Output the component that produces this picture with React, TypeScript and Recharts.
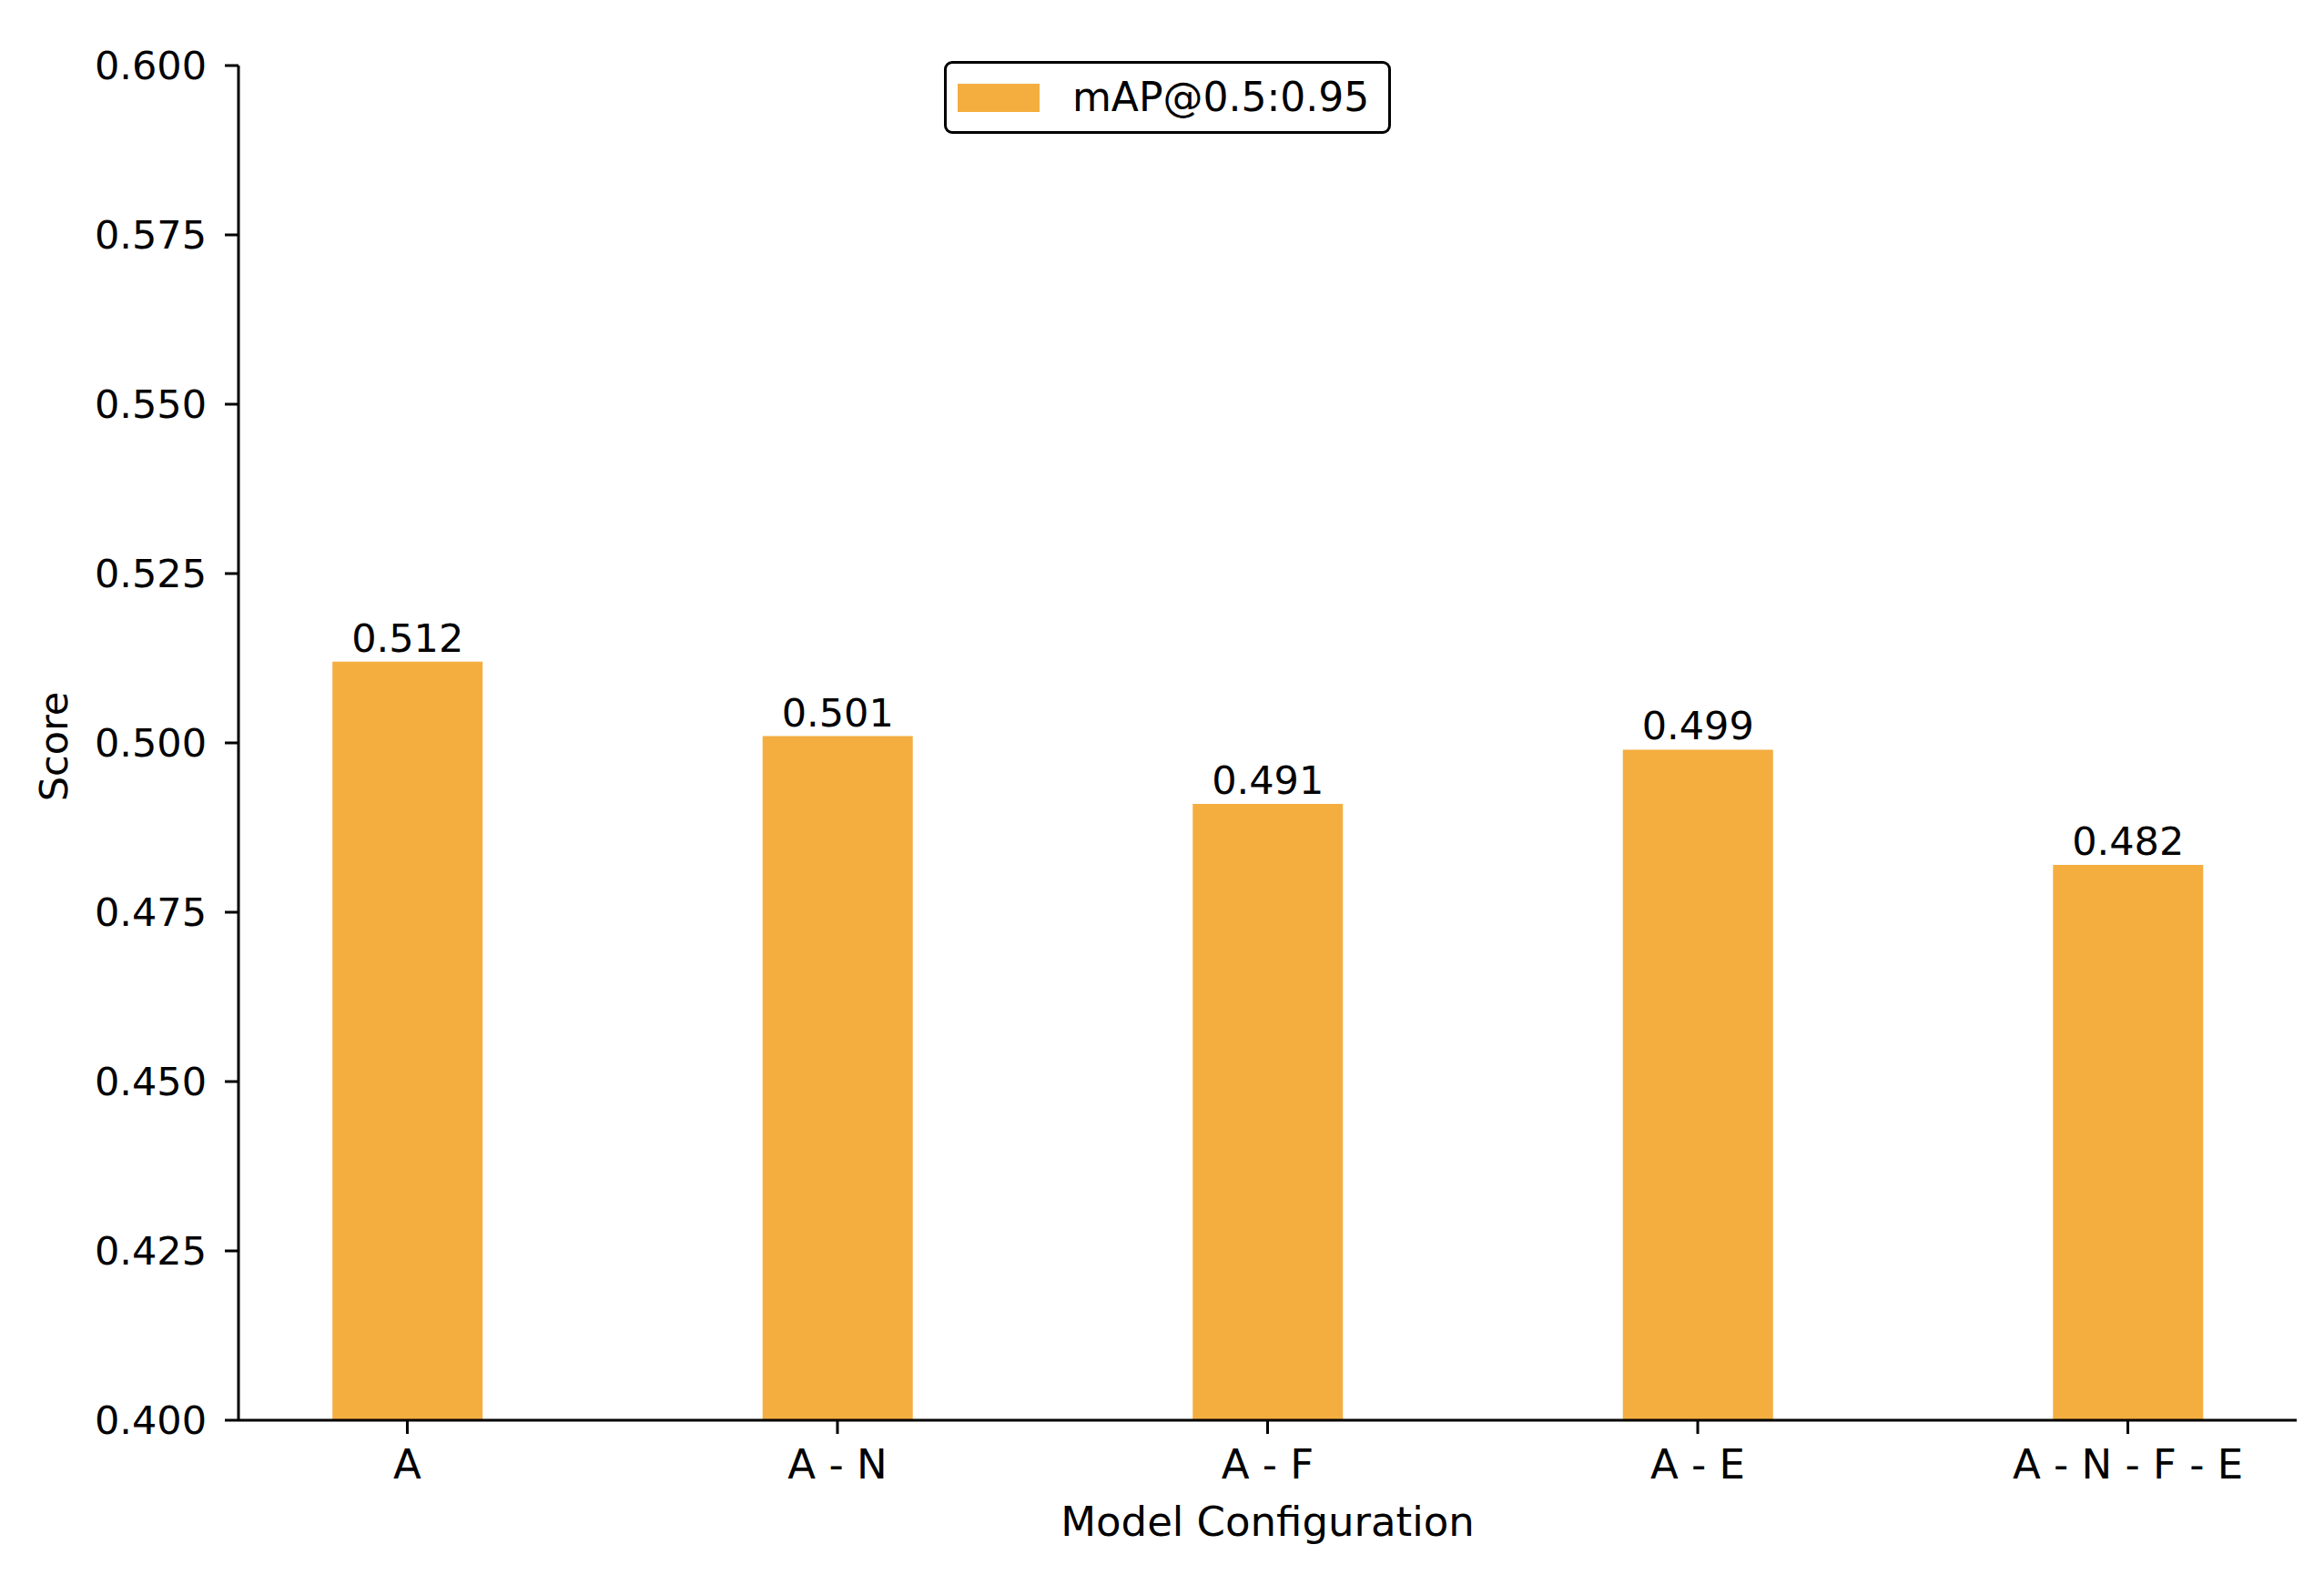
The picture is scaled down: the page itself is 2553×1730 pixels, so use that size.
import { BarChart, Bar, XAxis, YAxis, Legend, LabelList } from 'recharts';

const configs = ['A', 'A - N', 'A - F', 'A - E', 'A - N - F - E'];
const mapScores = [0.512, 0.501, 0.491, 0.499, 0.482];
const yTicks = [0.4, 0.425, 0.45, 0.475, 0.5, 0.525, 0.55, 0.575, 0.6];

const BAR_COLOR = '#F4AE40';
const FONT = 'DejaVu Sans, sans-serif';
const FS = 43;
const FS_X = 45;

const data = configs.map((name, i) => ({ idx: i, name, score: mapScores[i] }));

// matplotlib-ish boxed legend
const LegendBox = (props: any) => {
  const item = props.payload?.[0];
  return (
    <div
      style={{
        boxSizing: 'border-box',
        width: 491,
        height: 80,
        border: '3px solid #000',
        borderRadius: 9,
        background: '#fff',
        display: 'flex',
        alignItems: 'center',
        fontFamily: FONT,
        fontSize: 44,
        color: '#000',
      }}
    >
      <span style={{ display: 'inline-block', width: 90, height: 31, marginLeft: 12, background: item?.color || BAR_COLOR }} />
      <span style={{ marginLeft: 36, lineHeight: 1 }}>mAP@0.5:0.95</span>
    </div>
  );
};

export default function App() {
  return (
    <div style={{ position: 'absolute', left: 0, top: 0, background: '#fff' }}>
      <BarChart
        width={2553}
        height={1730}
        data={data}
        margin={{ top: 72, right: 30, bottom: 0, left: 0 }}
        style={{ fontFamily: FONT }}
      >
        <XAxis
          dataKey="idx"
          type="number"
          domain={[-0.3925, 4.3925]}
          ticks={[0, 1, 2, 3, 4]}
          tickFormatter={(i: number) => configs[i] ?? ''}
          stroke="#000"
          strokeWidth={3}
          tickSize={15}
          tickMargin={17}
          tick={{ fill: '#000', fontSize: FS_X, fontFamily: FONT }}
          height={170}
          label={(p: any) => {
            const vb = p.viewBox;
            if (!vb) return null;
            return (
              <text x={vb.x + vb.width / 2} y={vb.y + 127} textAnchor="middle" fontSize={FS_X} fontFamily={FONT} fill="#000">
                Model Configuration
              </text>
            );
          }}
        />
        <YAxis
          yAxisId="left"
          domain={[0.4, 0.6]}
          ticks={yTicks}
          tickFormatter={(v: number) => v.toFixed(3)}
          stroke="#000"
          strokeWidth={3}
          tickSize={15}
          tickMargin={20}
          tick={{ fill: '#000', fontSize: FS, fontFamily: FONT }}
          width={262}
          label={(p: any) => {
            const vb = p.viewBox;
            if (!vb) return null;
            const cx = vb.x + 74;
            const cy = vb.y + vb.height / 2 + 4;
            return (
              <text x={cx} y={cy} transform={`rotate(-90, ${cx}, ${cy})`} textAnchor="middle" fontSize={FS} fontFamily={FONT} fill="#000">
                Score
              </text>
            );
          }}
        />
        <YAxis
          yAxisId="right"
          orientation="right"
          domain={[0.4, 0.6]}
          tick={false}
          tickLine={false}
          stroke="#000"
          strokeWidth={3}
          width={0}
        />
        <Legend
          layout="horizontal"
          align="center"
          verticalAlign="middle"
          content={<LegendBox />}
          wrapperStyle={{ left: 1037, top: 67, width: 491, height: 80 }}
        />
        <Bar yAxisId="left" dataKey="score" name="mAP@0.5:0.95" fill={BAR_COLOR} barSize={165} isAnimationActive={false}>
          <LabelList
            dataKey="score"
            position="top"
            offset={11}
            formatter={(v: any) => Number(v).toFixed(3)}
            style={{ fill: '#000', fontSize: FS, fontFamily: FONT }}
          />
        </Bar>
      </BarChart>
    </div>
  );
}
